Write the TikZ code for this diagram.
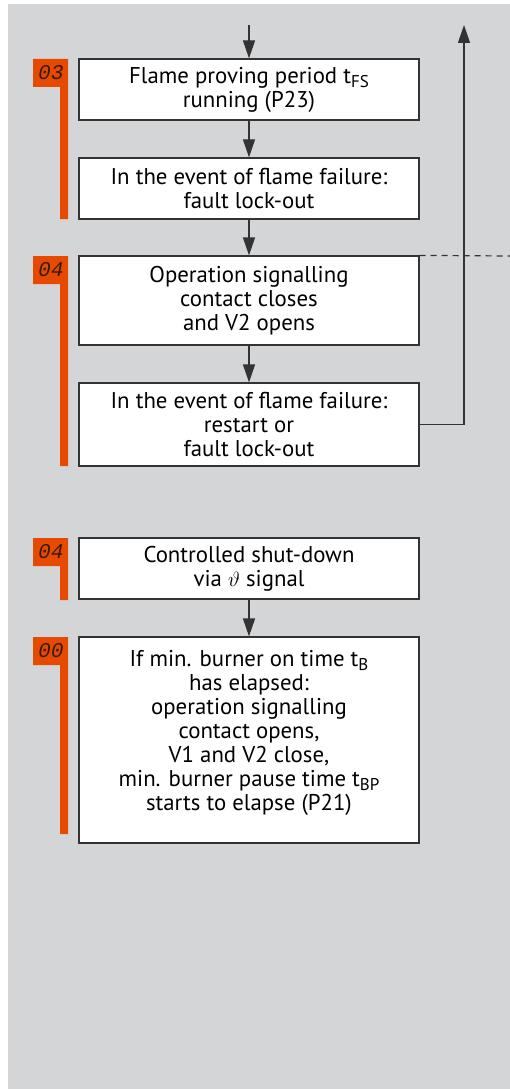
\documentclass[tikz,border=0pt]{standalone}
\usepackage{fontspec}
\setmainfont{PT Sans}
\newfontfamily\digfont[FakeSlant=0.2]{Liberation Mono}
\usetikzlibrary{arrows.meta}
\definecolor{bg}{HTML}{D4D5D7}
\definecolor{ora}{HTML}{E64A00}
\definecolor{edge}{HTML}{333333}
\definecolor{digc}{HTML}{3A1A08}
\newcommand\lowsub[1]{\raisebox{-4pt}{\fontsize{17pt}{17pt}\selectfont #1}}
\newcommand\stagemark[4]{%
  \fill[ora] (33,#1) -- (68,#1) -- (68,#2) -- (60,#2) -- (60,#1+28) -- (33,#1+28) -- cycle;
  \node[digits] (#4) at (37,#1+6) {#3};}
\begin{document}
\begin{tikzpicture}[x=1pt,y=-1pt,
  stepbox/.style={draw=edge, line width=1.2pt, fill=white, minimum width=340pt, inner sep=0pt,
    align=center, font=\fontsize{22.8pt}{24pt}\selectfont, text=black},
  plaintext/.style={inner sep=0pt, align=center, font=\fontsize{22.8pt}{24pt}\selectfont, text=black},
  flow/.style={draw=edge, line width=1.2pt, -{Triangle[length=18pt,width=12pt]}},
  digits/.style={font=\digfont\fontsize{21pt}{21pt}\selectfont, text=digc, inner sep=0pt, anchor=north west}]
\useasboundingbox (0,0) rectangle (510,1089);
\fill[white] (0,0) rectangle (510,1089);
\fill[bg] (8,4) rectangle (510,1089);

\node[stepbox, minimum height=61pt] (b1) at (249,89.5) {Flame proving period t\lowsub{FS}\\running (P23)};
\node[stepbox, minimum height=61pt] (b2) at (249,188.5) {In the event of flame failure:\\fault lock-out};
\node[stepbox, minimum height=89pt] (b3) at (249,300.5) {Operation signalling\\contact closes\\and V2 opens};
\node[stepbox, minimum height=83pt] (b4) at (249,424.5) {In the event of flame failure:\\restart or\\fault lock-out};
\node[stepbox, minimum height=61pt] (b5) at (249,568.5) {Controlled shut-down\\via $\vartheta$ signal};
\node[stepbox, minimum height=206pt] (b6) at (249,740) {};
\node[plaintext, anchor=north] (t6) at (249,650) {If min. burner on time t\lowsub{B}\\has elapsed:\\operation signalling\\contact opens,\\V1 and V2 close,\\min. burner pause time t\lowsub{BP}\\starts to elapse (P21)};

\coordinate (start) at (249,25);
\coordinate (ret) at (464,25);
\coordinate (dashend) at (510,256);

\draw[flow] (start) -- (b1);
\draw[flow] (b1) -- (b2);
\draw[flow] (b2) -- (b3);
\draw[flow] (b3) -- (b4);
\draw[flow] (b5) -- (b6);
\draw[flow] (b4.east) -| (ret);
\draw[edge, line width=1.2pt, dash pattern=on 6pt off 5pt] (b3.north east) -- (dashend);

\stagemark{59}{219}{03}{m1}
\stagemark{256}{466}{04}{m2}
\stagemark{538}{600}{04}{m3}
\stagemark{637}{834}{00}{m4}
\end{tikzpicture}
\end{document}
